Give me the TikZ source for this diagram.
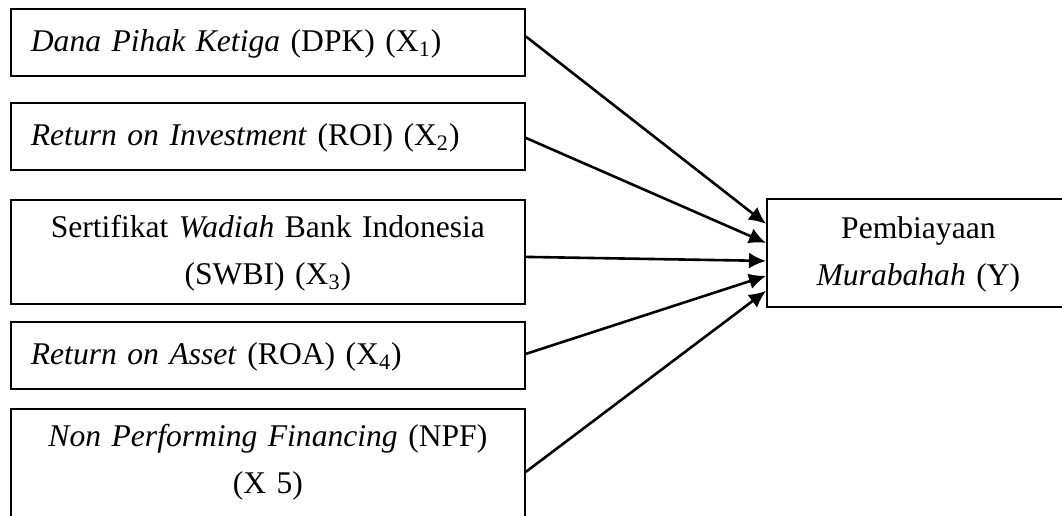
\documentclass[tikz,border=0pt]{standalone}
\usepackage{fontspec}
\setmainfont{Liberation Serif}
\usetikzlibrary{arrows.meta}
\begin{document}
\begin{tikzpicture}[x=0.5pt,y=-0.5pt,
    font=\fontsize{15.8}{23.5}\selectfont,
    varbox/.style={draw, line width=0.9pt, anchor=north west, inner xsep=10pt, inner ysep=0pt, text width=237pt},
    onerow/.style={varbox, align=left, text height=21.5pt, text depth=12pt},
    tworow/.style={varbox, align=center, text height=19pt},
    arr/.style={-{Latex[length=8.5pt,width=8pt]}, line width=1.3pt}]
      \useasboundingbox (0,0) rectangle (1062,515);
      \node[onerow] (dpk) at (10,8) {\textit{Dana Pihak Ketiga} (DPK) (X\textsubscript{1})};
      \node[onerow] (roi) at (10,102) {\textit{Return on Investment} (ROI) (X\textsubscript{2})};
      \node[tworow, text depth=33pt] (swbi) at (10,199) {Sertifikat \textit{Wadiah} Bank Indonesia\\(SWBI) (X\textsubscript{3})};
      \node[onerow] (roa) at (10,321) {\textit{Return on Asset} (ROA) (X\textsubscript{4})};
      \node[tworow, text depth=42pt] (npf) at (10,408) {\textit{Non Performing Financing} (NPF)\\(X 5)};
      \node[varbox, align=center, text width=131.5pt, text height=20pt, text depth=34pt] (mur) at (766,198) {Pembiayaan\\\textit{Murabahah} (Y)};
      \draw[arr] ([yshift=3pt]dpk.east) -- ([yshift=14.5pt]mur.west);
      \draw[arr] ([yshift=-0.75pt]roi.east) -- ([yshift=5pt]mur.west);
      \draw[arr] ([yshift=-2.5pt]swbi.east) -- ([yshift=-4pt]mur.west);
      \draw[arr] ([yshift=0.75pt]roa.east) -- ([yshift=-11.5pt]mur.west);
      \draw[arr] ([yshift=-1pt]npf.east) -- ([yshift=-19pt]mur.west);
    \end{tikzpicture}
\end{document}
